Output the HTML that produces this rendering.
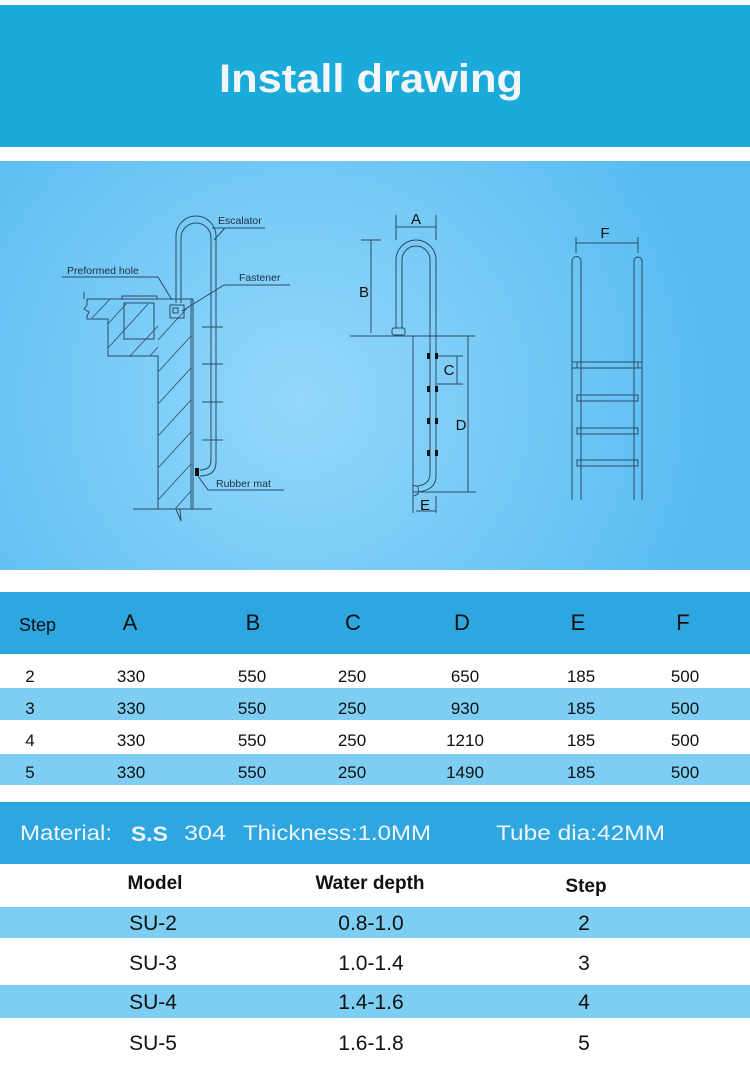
<!DOCTYPE html>
<html><head><meta charset="utf-8"><style>
html,body{margin:0;padding:0;background:#fff;}
svg{display:block}
text{font-family:"Liberation Sans",sans-serif;}
</style></head><body>
<svg width="750" height="1079" viewBox="0 0 750 1079" xmlns="http://www.w3.org/2000/svg">
<defs>
<radialGradient id="bg" cx="300" cy="400" r="420" gradientUnits="userSpaceOnUse">
<stop offset="0" stop-color="#94d8fb"/><stop offset="1" stop-color="#58bcf1"/>
</radialGradient>
</defs>
<rect x="0" y="0" width="750" height="1079" fill="#fff"/>
<rect x="0" y="5" width="750" height="142" fill="#1aabdb"/>
<text x="371" y="92" font-size="40" font-weight="bold" fill="#f3f6f9" text-anchor="middle" textLength="304" lengthAdjust="spacingAndGlyphs">Install drawing</text>
<rect x="0" y="161" width="750" height="409" fill="url(#bg)"/>

<g fill="none" stroke="#2c4a66" stroke-width="1">
<!-- left drawing -->
<path d="M176,303 V236 A20,20 0 0 1 216,236 V462 Q216,476 200,476"/>
<path d="M181,303 V238 A15,15 0 0 1 211,238 V460 Q211,470 200,470"/>
<path d="M87,299 H193 V509"/>
<path d="M191,299 V509"/>
<path d="M87,299 V305 l-3,4 l5,3 l-2,4 V319 H108 V356 H158 V509"/>
<path d="M84,292 V299"/>
<rect x="124" y="303" width="30" height="36"/>
<path d="M122,299 V296 H157 V299"/>
<rect x="170" y="305" width="14" height="13"/>
<path d="M173,308 h5 v5 h-5z"/>
<path d="M202,327 H223 M202,364 H223 M202,402 H223 M202,440 H223"/>
<path d="M133,509 H212"/>
<path d="M170,509 l6,0 l5,12 l-1,-12"/>
<path d="M108,324 l18,-20 M108,348 l40,-44 M130,356 l28,-30 M158,340 l30,-33 M158,372 l33,-36 M158,404 l33,-36 M158,436 l33,-36 M158,468 l33,-36 M158,500 l33,-36 M175,509 l16,-18 M92,318 l18,-19 M150,356 l8,-9" stroke-width="0.8"/>
<!-- leaders -->
<path d="M212,228 H265 M214,240 L225,228"/>
<path d="M62,277 H158 L172,300"/>
<path d="M224,285 H290 L224,285 L182,311"/>
<path d="M198,476 L208,490 H284"/>
<!-- middle drawing -->
<path d="M396,215 V240 M436,215 V240 M396,227 H436"/>
<path d="M396,328 V260 A20,20 0 0 1 436,260 V476 Q436,490 418,492"/>
<path d="M402,328 V260 A14,14 0 0 1 430,260 V474 Q430,484 418,486"/>
<rect x="392" y="328" width="13" height="7" rx="2"/>
<path d="M371,240 V333 M361,240 H381"/>
<path d="M350,336 H475"/>
<path d="M413,336 V513"/>
<path d="M413,486 Q420,484 418,494 L414,496"/>
<path d="M437,356 H463 M437,384 H463 M457,356 V384"/>
<path d="M468,336 V492 M413,492 H476"/>
<path d="M436,496 V513 M416,511 H436"/>
<!-- right ladder -->
<path d="M576,237 V253 M638,237 V253 M576,243 H638"/>
<path d="M572,500 V261 A4.5,4.5 0 0 1 581,261 V500"/>
<path d="M634,500 V261 A4,4 0 0 1 642,261 V500"/>
<path d="M577,362 H638 V368 H577Z M577,395 H638 V401 H577Z M577,428 H638 V434 H577Z M577,460 H638 V466 H577Z"/>
<path d="M572,362 H581 M572,368 H581 M634,362 H642 M634,368 H642"/>
</g>
<rect x="195" y="468" width="4" height="8" fill="#111"/>
<g fill="#111">
<rect x="427" y="353" width="3" height="6"/><rect x="435" y="353" width="3" height="6"/>
<rect x="427" y="386" width="3" height="6"/><rect x="435" y="386" width="3" height="6"/>
<rect x="427" y="418" width="3" height="6"/><rect x="435" y="418" width="3" height="6"/>
<rect x="427" y="450" width="3" height="6"/><rect x="435" y="450" width="3" height="6"/>
</g>
<g fill="#1e2f40" font-size="10.5">
<text x="218" y="224">Escalator</text>
<text x="67" y="274">Preformed hole</text>
<text x="239" y="281">Fastener</text>
<text x="216" y="487">Rubber mat</text>
</g>
<g fill="#111" font-size="15" text-anchor="middle">
<text x="416" y="224">A</text>
<text x="364" y="297">B</text>
<text x="449" y="375">C</text>
<text x="461" y="430">D</text>
<text x="425" y="510">E</text>
<text x="605" y="238">F</text>
</g>

<!-- table 1 -->
<rect x="0" y="592" width="750" height="62" fill="#2ea6df"/>
<rect x="0" y="688" width="750" height="32" fill="#7ecef4"/>
<rect x="0" y="754" width="750" height="31" fill="#7ecef4"/>
<g fill="#111" font-family="Liberation Sans Narrow, Liberation Sans, sans-serif">
<text x="19" y="631" font-size="18">Step</text>
<g font-size="22" text-anchor="middle">
<text x="130" y="630">A</text><text x="253" y="630">B</text><text x="353" y="630">C</text><text x="462" y="630">D</text><text x="578" y="630">E</text><text x="683" y="630">F</text>
</g>
<g font-size="17" text-anchor="middle">
<text x="30" y="682">2</text><text x="131" y="682">330</text><text x="252" y="682">550</text><text x="352" y="682">250</text><text x="465" y="682">650</text><text x="581" y="682">185</text><text x="685" y="682">500</text>
<text x="30" y="714">3</text><text x="131" y="714">330</text><text x="252" y="714">550</text><text x="352" y="714">250</text><text x="465" y="714">930</text><text x="581" y="714">185</text><text x="685" y="714">500</text>
<text x="30" y="746">4</text><text x="131" y="746">330</text><text x="252" y="746">550</text><text x="352" y="746">250</text><text x="465" y="746">1210</text><text x="581" y="746">185</text><text x="685" y="746">500</text>
<text x="30" y="778">5</text><text x="131" y="778">330</text><text x="252" y="778">550</text><text x="352" y="778">250</text><text x="465" y="778">1490</text><text x="581" y="778">185</text><text x="685" y="778">500</text>
</g>
</g>

<!-- material band -->
<rect x="0" y="802" width="750" height="62" fill="#2ea6df"/>
<g fill="#eef4f8" font-size="21">
<text x="20" y="840" textLength="92" lengthAdjust="spacingAndGlyphs">Material:</text>
<text x="131" y="841" font-weight="bold" textLength="37" lengthAdjust="spacingAndGlyphs">S.S</text>
<text x="184" y="840" textLength="42" lengthAdjust="spacingAndGlyphs">304</text>
<text x="243" y="840" textLength="188" lengthAdjust="spacingAndGlyphs">Thickness:1.0MM</text>
<text x="496" y="840" textLength="169" lengthAdjust="spacingAndGlyphs">Tube dia:42MM</text>
</g>

<!-- table 2 -->
<rect x="0" y="907" width="750" height="31" fill="#7ecef4"/>
<rect x="0" y="985" width="750" height="33" fill="#7ecef4"/>
<g fill="#111" text-anchor="middle">
<g font-size="19" font-weight="bold">
<text x="155" y="889">Model</text><text x="370" y="889">Water depth</text><text x="586" y="892">Step</text>
</g>
<g font-size="21">
<text x="153" y="930">SU-2</text><text x="371" y="930">0.8-1.0</text><text x="584" y="930">2</text>
<text x="153" y="970">SU-3</text><text x="371" y="970">1.0-1.4</text><text x="584" y="970">3</text>
<text x="153" y="1009">SU-4</text><text x="371" y="1009">1.4-1.6</text><text x="584" y="1009">4</text>
<text x="153" y="1050">SU-5</text><text x="371" y="1050">1.6-1.8</text><text x="584" y="1050">5</text>
</g>
</g>
</svg>
</body></html>
